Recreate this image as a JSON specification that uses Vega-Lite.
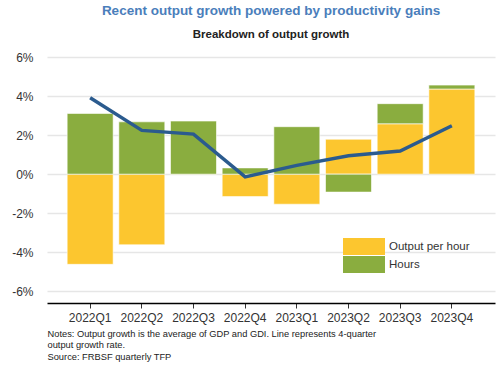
{
  "$schema": "https://vega.github.io/schema/vega-lite/v6.json",
  "width": 448,
  "height": 246,
  "autosize": {"type": "none"},
  "padding": {"left": 47, "top": 57, "right": 5, "bottom": 62},
  "background": "white",
  "config": {
    "font": "Liberation Sans",
    "view": {"stroke": null}
  },
  "title": {
    "text": "Recent output growth powered by productivity gains",
    "subtitle": "Breakdown of output growth",
    "anchor": "middle",
    "frame": "group",
    "fontSize": 13.5,
    "fontWeight": "bold",
    "color": "#4A7EBB",
    "subtitleFontSize": 11.5,
    "subtitleFontWeight": "bold",
    "subtitleColor": "#222222",
    "subtitlePadding": 11,
    "offset": 11
  },
  "datasets": {
    "bars": [
      {"q": "2022Q1", "component": "Output per hour", "value": -4.62},
      {"q": "2022Q1", "component": "Hours", "value": 3.11},
      {"q": "2022Q2", "component": "Output per hour", "value": -3.62},
      {"q": "2022Q2", "component": "Hours", "value": 2.68},
      {"q": "2022Q3", "component": "Output per hour", "value": -0.02},
      {"q": "2022Q3", "component": "Hours", "value": 2.72},
      {"q": "2022Q4", "component": "Output per hour", "value": -1.15},
      {"q": "2022Q4", "component": "Hours", "value": 0.32},
      {"q": "2023Q1", "component": "Output per hour", "value": -1.54},
      {"q": "2023Q1", "component": "Hours", "value": 2.43},
      {"q": "2023Q2", "component": "Output per hour", "value": 1.79},
      {"q": "2023Q2", "component": "Hours", "value": -0.92},
      {"q": "2023Q3", "component": "Output per hour", "value": 2.58},
      {"q": "2023Q3", "component": "Hours", "value": 1.03},
      {"q": "2023Q4", "component": "Output per hour", "value": 4.36},
      {"q": "2023Q4", "component": "Hours", "value": 0.2}
    ],
    "line": [
      {"q": "2022Q1", "growth": 3.91},
      {"q": "2022Q2", "growth": 2.24},
      {"q": "2022Q3", "growth": 2.05},
      {"q": "2022Q4", "growth": -0.14},
      {"q": "2023Q1", "growth": 0.45},
      {"q": "2023Q2", "growth": 0.94},
      {"q": "2023Q3", "growth": 1.18},
      {"q": "2023Q4", "growth": 2.48}
    ]
  },
  "encoding": {
    "x": {
      "field": "q",
      "type": "nominal",
      "scale": {"paddingInner": 0.11, "paddingOuter": 0.39},
      "axis": {
        "labelAngle": 0,
        "labelFontSize": 12,
        "labelColor": "#333333",
        "labelPadding": 4,
        "domainColor": "#000000",
        "domainWidth": 1.5,
        "tickColor": "#333333",
        "tickSize": 5,
        "grid": false,
        "title": ["Notes: Output growth is the average of GDP and GDI. Line represents 4-quarter", "output growth rate.", "Source: FRBSF quarterly TFP"],
        "titleAnchor": "start",
        "titleAlign": "left",
        "titleBaseline": "top",
        "titleFontSize": 9.3,
        "titleFontWeight": "normal",
        "titleColor": "#222222",
        "titleLineHeight": 11.5,
        "titlePadding": 6
      }
    }
  },
  "layer": [
    {
      "data": {"name": "bars"},
      "mark": {"type": "bar", "stroke": "#ffffff", "strokeWidth": 1, "strokeOpacity": 0.6},
      "encoding": {
        "y": {
          "field": "value",
          "type": "quantitative",
          "stack": "zero",
          "scale": {"domain": [-6.6, 6], "nice": false, "zero": false},
          "axis": {
            "values": [-6, -4, -2, 0, 2, 4, 6],
            "labelExpr": "datum.value + '%'",
            "labelFontSize": 12,
            "labelColor": "#333333",
            "labelPadding": 14,
            "ticks": false,
            "domain": false,
            "gridColor": "#e6e6e6",
            "gridWidth": 1.5,
            "title": null
          }
        },
        "color": {
          "field": "component",
          "type": "nominal",
          "scale": {"domain": ["Output per hour", "Hours"], "range": ["#FCC62F", "#8AAD3F"]},
          "legend": {
            "title": null,
            "orient": "none",
            "legendX": 296,
            "legendY": 181,
            "symbolType": "M-1,-0.4L1,-0.4L1,0.4L-1,0.4Z",
            "symbolSize": 1764,
            "symbolStrokeWidth": 0,
            "symbolOpacity": 1,
            "clipHeight": 17,
            "labelFontSize": 11.5,
            "labelColor": "#333333",
            "labelOffset": 4,
            "rowPadding": 1
          }
        },
        "order": {"field": "component", "sort": "descending"}
      }
    },
    {
      "data": {"name": "line"},
      "mark": {"type": "line", "color": "#2B5B8E", "strokeWidth": 3.5},
      "encoding": {
        "y": {"field": "growth", "type": "quantitative"}
      }
    }
  ]
}
